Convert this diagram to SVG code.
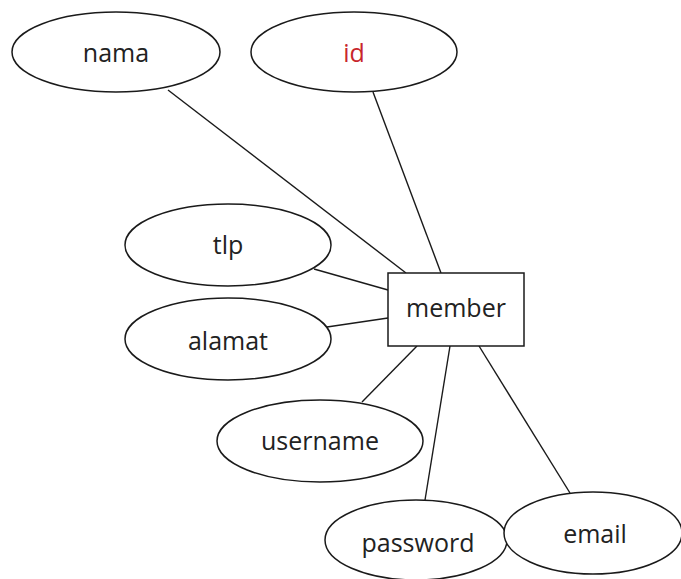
<svg xmlns="http://www.w3.org/2000/svg" width="681" height="579" viewBox="0 0 681 579">
<style>
.shape{fill:#fff;stroke:#1a1a1a;stroke-width:1.5}
.lbl{font-family:"Open Sans","Liberation Sans",sans-serif;font-size:25px;fill:#222;text-anchor:middle}
.key{fill:#c8262b}
.conn line{stroke:#1a1a1a;stroke-width:1.4}
</style>
<rect width="681" height="579" fill="#fff"/>
<g id="connectors" class="conn">
<line x1="168" y1="90" x2="406" y2="273"/>
<line x1="373" y1="92" x2="441" y2="273"/>
<line x1="314" y1="269" x2="388" y2="290"/>
<line x1="327" y1="327" x2="388" y2="318"/>
<line x1="362" y1="402" x2="417" y2="346"/>
<line x1="425" y1="500" x2="450" y2="346"/>
<line x1="570" y1="493" x2="479" y2="346"/>
</g>
<g id="nama"><ellipse class="shape" cx="116" cy="52" rx="104" ry="40"/><text class="lbl" x="116" y="62">nama</text></g>
<g id="id"><ellipse class="shape" cx="354" cy="52" rx="103" ry="40"/><text class="lbl key" x="354" y="62">id</text></g>
<g id="tlp"><ellipse class="shape" cx="228" cy="245" rx="103" ry="41"/><text class="lbl" x="228" y="254">tlp</text></g>
<g id="alamat"><ellipse class="shape" cx="228" cy="339" rx="103" ry="41"/><text class="lbl" x="228" y="350">alamat</text></g>
<g id="member"><rect class="shape" x="388" y="273" width="136" height="73"/><text class="lbl" x="456" y="317">member</text></g>
<g id="username"><ellipse class="shape" cx="320" cy="441" rx="103" ry="41"/><text class="lbl" x="320" y="450">username</text></g>
<g id="password"><ellipse class="shape" cx="416" cy="540" rx="91" ry="40"/><text class="lbl" x="418" y="552">password</text></g>
<g id="email"><ellipse class="shape" cx="593" cy="533" rx="89" ry="41"/><text class="lbl" x="595" y="543">email</text></g>
</svg>
